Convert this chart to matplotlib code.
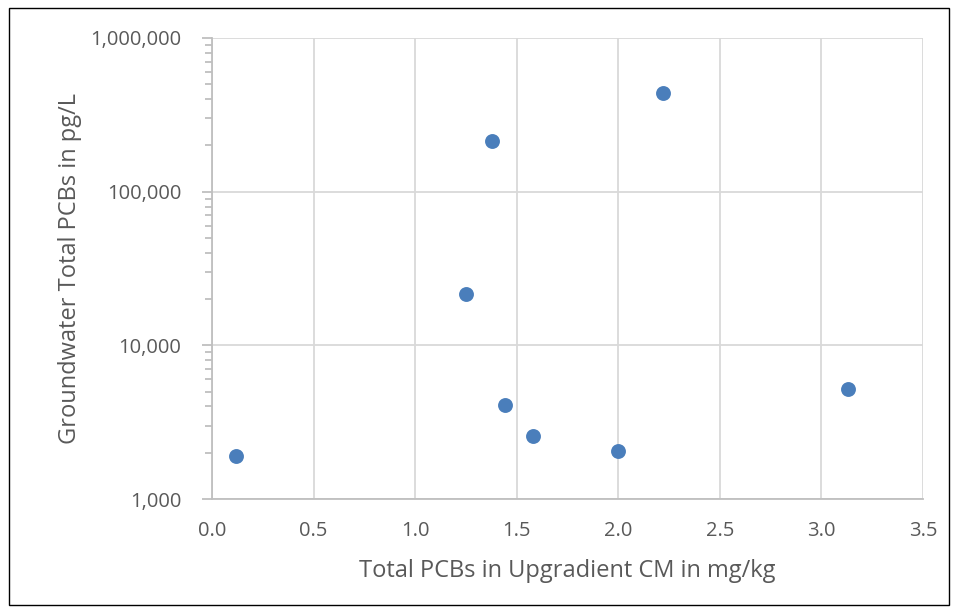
import matplotlib
matplotlib.use("Agg")
import matplotlib.pyplot as plt
from matplotlib.patches import Rectangle
from matplotlib.ticker import FuncFormatter, LogLocator, NullFormatter

# Datos
cm_pcbs = [0.12, 1.25, 1.38, 1.44, 1.58, 2.00, 2.22, 3.13]  # mg/kg
gw_pcbs = [1900, 21600, 213000, 4100, 2570, 2050, 438000, 5200]  # pg/L

x_ticks = [0.0, 0.5, 1.0, 1.5, 2.0, 2.5, 3.0, 3.5]
y_ticks = [1e3, 1e4, 1e5, 1e6]

plt.rcParams["font.family"] = ["Open Sans", "DejaVu Sans"]
txt = "#595959"
grid_c = "#D9D9D9"
axis_c = "#BFBFBF"

fig = plt.figure(figsize=(9.57, 6.14), dpi=100)
ax = fig.add_axes([212 / 957, 1 - 499 / 614, (923 - 212) / 957, (499 - 38) / 614])

ax.scatter(cm_pcbs, gw_pcbs, s=115, color="#4A7EBB", zorder=3, linewidths=0)

ax.set_yscale("log")
ax.set_xlim(0, 3.5)
ax.set_ylim(1e3, 1e6)
ax.set_xticks(x_ticks)
ax.set_xticklabels([f"{v:.1f}" for v in x_ticks])
ax.set_yticks(y_ticks)
ax.yaxis.set_major_formatter(FuncFormatter(lambda v, p: f"{v:,.0f}"))
ax.yaxis.set_minor_locator(LogLocator(base=10, subs=range(2, 10)))
ax.yaxis.set_minor_formatter(NullFormatter())

ax.grid(True, which="major", color=grid_c, lw=1.3, zorder=0)
ax.set_axisbelow(True)
for s in ["top", "right"]:
    ax.spines[s].set_visible(False)
for s in ["left", "bottom"]:
    ax.spines[s].set_color(axis_c)
    ax.spines[s].set_linewidth(1.3)

ax.tick_params(axis="x", length=0, pad=16, labelsize=14.5, labelcolor=txt)
ax.tick_params(axis="y", which="major", length=7, width=1.3, color=axis_c,
               pad=15, labelsize=14.5, labelcolor=txt)
ax.tick_params(axis="y", which="minor", length=5, width=1.3, color=axis_c)

ax.set_xlabel("Total PCBs in Upgradient CM in mg/kg", fontsize=17, color=txt, labelpad=13)
ax.set_ylabel("Groundwater Total PCBs in pg/L", fontsize=17, color=txt, labelpad=6)

# Marco exterior
fig.patches.append(Rectangle((9 / 957, 1 - 605 / 614), 940 / 957, 597 / 614,
                             transform=fig.transFigure, fill=False,
                             edgecolor="black", lw=1))

plt.savefig("out.png", dpi=100)
plt.close()
